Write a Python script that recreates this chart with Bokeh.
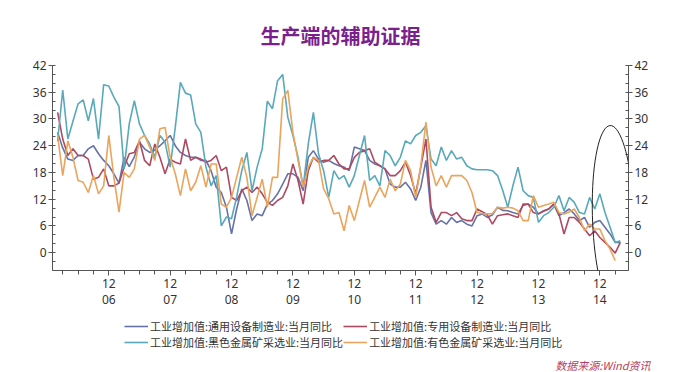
import numpy as np
import pandas as pd
from bokeh.plotting import figure
from bokeh.layouts import column
from bokeh.models import (LinearAxis, FixedTicker, Legend, LegendItem, Title,
                          PolyAnnotation, Range1d)
from bokeh.embed import file_html
from bokeh.resources import INLINE

# ---------------- data ----------------
months = pd.period_range("2006-02", periods=111, freq="M")

general_equip = [27, 23.5, 21, 20.7, 21.8, 21.8, 23.3, 24, 22.2, 20.7, 19.5, 17.7, 15.6,
                 21.4, 19.3, 21.5, 24.8, 23.3, 22.5, 23, 24, 25.1, 26.3, 24, 22.5, 21.8,
                 21.4, 21.4, 20.7, 20.7, 18.4, 14.7, 13.5, 10.2, 4.2, 9.8, 14.3, 11.7, 7.2,
                 8.7, 8.3, 10.9, 11.7, 13.2, 15.4, 17.7, 17.7, 16.9, 13.9, 21.4, 22.9, 21,
                 20.3, 20.7, 20, 19.5, 19.2, 18.4, 23.7, 23.3, 22.9, 20.7, 19.9, 19.5, 18.8,
                 15.4, 14.7, 14.7, 15.8, 14.3, 11.7, 14.7, 20.7, 9, 6.4, 7.2, 6.4, 7.9, 6.8,
                 7.2, 6.4, 6, 8.3, 8.7, 7.9, 8.5, 10.2, 9.5, 9.4, 9, 8.7, 10.6, 10.9, 10.2,
                 8.7, 9.4, 9.8, 10.9, 8.3, 9, 9.8, 8.7, 7.2, 7.9, 5.7, 6.8, 7.2, 5.7, 4.2,
                 2.3, 2.3]
special_equip = [31.5, 25.5, 21.8, 23.3, 21.8, 21.8, 21, 16.5, 16.9, 18.8, 15, 15, 15.6,
                 19.2, 22.2, 22.5, 25.1, 20.7, 19.5, 24.4, 21.4, 17.7, 21, 20.3, 19.9, 25.5,
                 20.7, 21.4, 21, 20.3, 20.7, 21.8, 18.4, 19.2, 12.4, 11.7, 13.9, 14.7, 13.5,
                 14.7, 13.2, 11.3, 10.6, 11.7, 12.4, 15, 19.9, 16.2, 10.9, 18.4, 21.4, 20.3,
                 20.7, 20.7, 21.8, 19.9, 18.8, 18.8, 21.4, 22.5, 22.9, 23.3, 20.3, 19.5, 18.8,
                 17.3, 17.3, 18.4, 20.3, 17.3, 13.2, 19.2, 25.5, 10.2, 6.8, 9, 9, 8.3, 9, 7.6,
                 7.2, 7.2, 9.8, 9.2, 8.5, 6.4, 8.3, 8.5, 8.7, 8.3, 7.9, 10.9, 10.9, 9, 8.7,
                 9.3, 9.8, 10.9, 8.7, 4.2, 7.9, 7.9, 6.8, 5.3, 3.8, 4.9, 3.4, 2.3, 1.2, -0.1,
                 2.3]
ferrous_mining = [25, 36.5, 25.5, 29.5, 33.4, 34.3, 29.6, 34.6, 25.5, 37.7, 37.4, 34.9, 32.8,
                  18.8, 28.9, 34.1, 28.9, 26.3, 24.4, 21.4, 26.3, 24.8, 19.2, 28.1, 38.2,
                  35.8, 35.4, 28.9, 27, 19.2, 15, 17.3, 6, 8, 7.6, 12.5, 18.4, 22.5, 13.9,
                  19.2, 23.3, 34, 32.3, 38.6, 40, 30.4, 26.3, 21.4, 14.7, 24.4, 31.5, 22.2,
                  18.4, 12.4, 18.4, 16.5, 17.3, 14.7, 17.3, 21.8, 26.3, 16.2, 17.3, 15, 22.9,
                  21.8, 19.5, 21.4, 25.1, 24.4, 26.3, 27, 28.5, 21, 19.5, 23.7, 20.7, 22.9,
                  21, 21.4, 19.5, 18.8, 18.6, 18.6, 18.6, 18.4, 17.3, 14, 10.2, 15, 19.2,
                  13.9, 12.8, 12.4, 6.8, 8.3, 9, 10.2, 12.8, 9.4, 12.4, 11.3, 9, 8.7, 12.4,
                  9.8, 13.2, 9, 5.7, 2.3, 2.7]
nonferrous_mining = [26.3, 17.3, 25.1, 21.4, 16.2, 15.8, 13.5, 17.3, 13.2, 15, 26.3, 16.9,
                     9.1, 18, 16.9, 18.8, 25.5, 26.3, 23.7, 20.7, 27.8, 28.1, 21.4, 17.7,
                     12.8, 18.8, 13.9, 15.8, 19.5, 14.7, 19.9, 19.9, 10.9, 10.2, 12.4, 16.9,
                     21.4, 16.9, 8.3, 12.4, 16.5, 10.2, 16.9, 16.9, 34.5, 36.4, 27, 20.7,
                     14.7, 19.2, 21.4, 20.7, 14.3, 12.1, 8.7, 9, 4.9, 10.6, 7.2, 11.7, 16.2,
                     10.2, 12.4, 14.7, 12.4, 16.5, 13.9, 15.4, 20.7, 18.4, 12.4, 19.5, 29.3,
                     19.2, 15, 17.3, 14.7, 17.3, 17.3, 17.3, 16.2, 13.5, 9, 8.8, 8.7, 8.8,
                     10.2, 10, 10.2, 10, 9.4, 7.2, 7.2, 12.8, 10.2, 10.6, 10.9, 11.3, 9, 8.7,
                     9.1, 9.8, 7.9, 4.9, 6.4, 5.3, 5.3, 2.7, 0.8, -1.8, np.nan]

series_names = ["工业增加值:通用设备制造业:当月同比", "工业增加值:专用设备制造业:当月同比",
                "工业增加值:黑色金属矿采选业:当月同比", "工业增加值:有色金属矿采选业:当月同比"]
series_vals = [general_equip, special_equip, ferrous_mining, nonferrous_mining]
series_colors = ["#6673a8", "#ad4a62", "#58a9b9", "#eaa45c"]

y_major = [0, 6, 12, 18, 24, 30, 36, 42]
title_text = "生产端的辅助证据"
source_text = "数据来源:Wind资讯"

# ---------------- main chart ----------------
x = np.arange(len(months))
dec_idx = [int(i) for i in x if months[i].month == 12]
qtr_idx = [int(i) for i in x if months[i].month % 3 == 0]

p = figure(width=675, height=314,
           min_border_left=52, min_border_right=47, min_border_top=65, min_border_bottom=44,
           x_range=Range1d(-1, 111.6), y_range=Range1d(-4, 42),
           x_axis_location=None, y_axis_location=None,
           output_backend="svg", toolbar_location=None)
p.outline_line_color = None
p.grid.visible = False
p.background_fill_color = "white"
p.border_fill_color = "white"

p.title.text = title_text
p.title.align = "center"
p.title.text_font = "Noto Sans CJK SC"
p.title.text_font_style = "bold"
p.title.text_font_size = "20px"
p.title.text_color = "#7a1f8c"
p.title.standoff = 31

AX = "#555555"
TXT = "#333333"
FONT = "Noto Sans"

def yaxis():
    ax = LinearAxis(ticker=FixedTicker(ticks=y_major, minor_ticks=list(range(-4, 43, 2))))
    ax.axis_line_color = AX
    ax.major_tick_line_color = AX
    ax.minor_tick_line_color = AX
    ax.major_tick_out = 4
    ax.major_tick_in = 0
    ax.minor_tick_out = 0
    ax.minor_tick_in = 3
    ax.major_label_standoff = 2
    ax.major_label_text_font = FONT
    ax.major_label_text_font_size = "12px"
    ax.major_label_text_color = TXT
    return ax

p.add_layout(yaxis(), "left")
p.add_layout(yaxis(), "right")

xa = LinearAxis(ticker=FixedTicker(ticks=dec_idx, minor_ticks=qtr_idx))
xa.major_label_overrides = {i: "12" for i in dec_idx}
xa.axis_line_color = AX
xa.major_tick_line_color = AX
xa.minor_tick_line_color = AX
xa.major_tick_out = 5
xa.major_tick_in = 0
xa.minor_tick_out = 4
xa.minor_tick_in = 0
xa.major_label_standoff = 3
xa.major_label_text_font = FONT
xa.major_label_text_font_size = "12px"
xa.major_label_text_color = TXT
p.add_layout(xa, "below")

xa2 = LinearAxis(ticker=FixedTicker(ticks=dec_idx, minor_ticks=[]))
xa2.major_label_overrides = {i: f"{months[i].year % 100:02d}" for i in dec_idx}
xa2.axis_line_color = None
xa2.major_tick_line_color = None
xa2.minor_tick_line_color = None
xa2.major_tick_out = 0
xa2.major_tick_in = 0
xa2.major_label_standoff = 4
xa2.major_label_text_font = FONT
xa2.major_label_text_font_size = "12px"
xa2.major_label_text_color = TXT
p.add_layout(xa2, "below")

for vals, col in zip(series_vals, series_colors):
    p.line(x, vals, line_color=col, line_width=1.6)

# hand-drawn highlight ellipse around the latest readings
cx_px, cy_px, rx_px, ry_px, th = 613, 218, 21, 93, np.deg2rad(2.0)
px_per_month, px_per_unit = 576 / 112.6, 205 / 46
t = np.linspace(0, 2 * np.pi, 80)
dx, dy = rx_px * np.cos(t), ry_px * np.sin(t)
ex = dx * np.cos(th) - dy * np.sin(th)
ey = dx * np.sin(th) + dy * np.cos(th)
c_m = (cx_px - 52) / px_per_month - 1
c_v = 42 - (cy_px - 65) / px_per_unit
p.add_layout(PolyAnnotation(xs=list(c_m + ex / px_per_month), ys=list(c_v + ey / px_per_unit),
                            fill_alpha=0, line_color="#222222", line_alpha=1, line_width=1))

# ---------------- legend strip (frame aligned with the chart above) ----------------
p2 = figure(width=675, height=58, title=None, min_border=0,
            x_range=Range1d(0, 1), y_range=Range1d(0, 1),
            x_axis_location=None, y_axis_location=None,
            output_backend="svg", toolbar_location=None)
p2.outline_line_color = None
p2.grid.visible = False
p2.background_fill_color = "white"
p2.border_fill_color = "white"

items = []
for name, col in zip(series_names, series_colors):
    r = p2.line(x=[np.nan], y=[np.nan], line_color=col, line_width=1.6)
    items.append(LegendItem(label=name, renderers=[r]))

legend = Legend(items=items, orientation="horizontal", ncols=2, location=(72, 4))
legend.label_text_font = "Noto Sans CJK SC"
legend.label_text_font_size = "11px"
legend.label_text_color = TXT
legend.glyph_width = 24
legend.glyph_height = 14
legend.label_standoff = 2
legend.label_height = 14
legend.spacing = 0
legend.padding = 0
legend.margin = 0
legend.border_line_color = None
legend.background_fill_alpha = 0
p2.add_layout(legend)

src = Title(text=source_text, align="right", offset=-22, standoff=0,
            text_font="Noto Sans CJK SC", text_font_style="italic",
            text_font_size="11px", text_color="#b8405e")
p2.add_layout(src, "below")

open("out.html", "w").write(file_html(column(p, p2, spacing=0), INLINE))
